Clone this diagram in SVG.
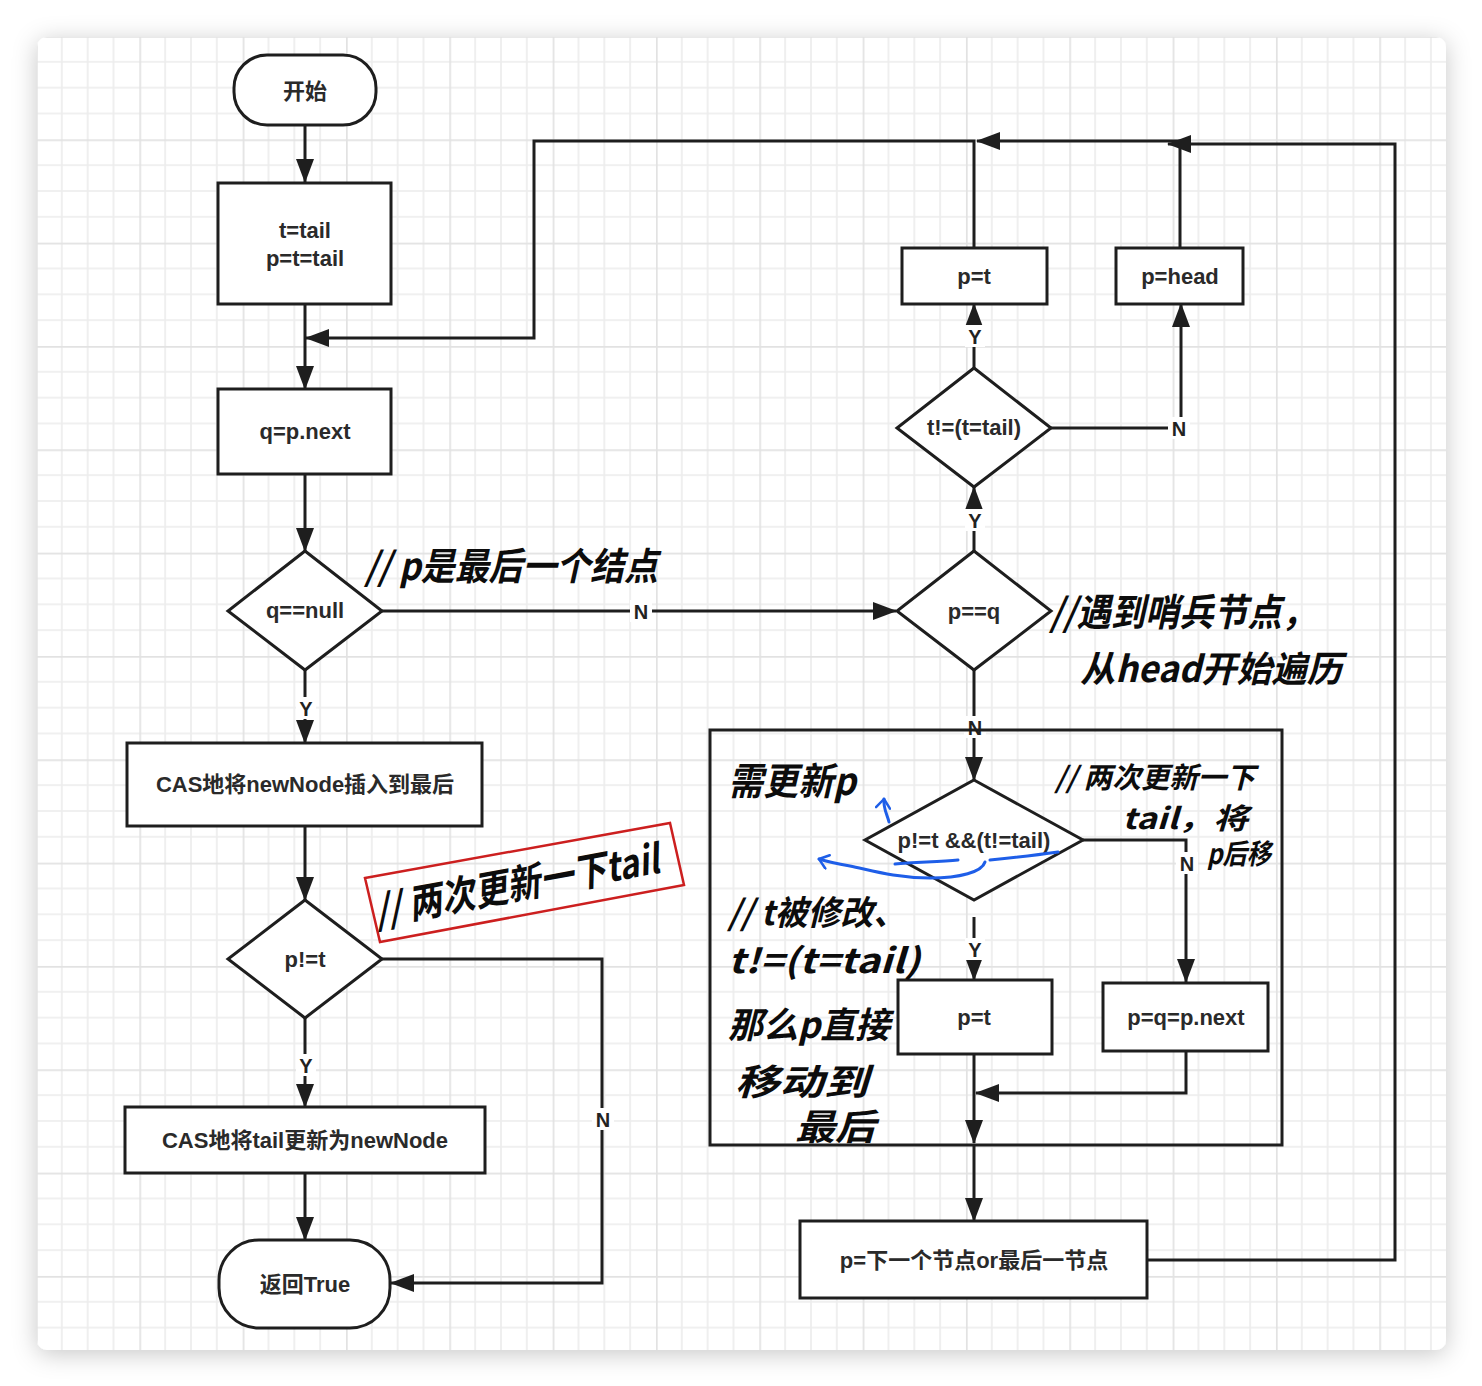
<svg xmlns="http://www.w3.org/2000/svg" width="1482" height="1386" viewBox="0 0 1482 1386">
  <defs>
    <filter id="cardShadow" x="-5%" y="-5%" width="110%" height="110%">
      <feDropShadow dx="0" dy="4" stdDeviation="12" flood-color="#000" flood-opacity="0.22"/>
    </filter>
    <pattern id="grid" patternUnits="userSpaceOnUse" x="36" y="36" width="103.33" height="103.33">
      <path d="M25.83,0V103.33M51.67,0V103.33M77.5,0V103.33M0,25.83H103.33M0,51.67H103.33M0,77.5H103.33" stroke="#ececec" stroke-width="1.6" fill="none"/>
      <path d="M0.8,0V103.33M0,0.8H103.33" stroke="#e2e2e2" stroke-width="1.8" fill="none"/>
    </pattern>
    <clipPath id="cardClip">
      <rect x="37" y="37" width="1409" height="1313" rx="10"/>
    </clipPath>
    <marker id="arrow" markerUnits="userSpaceOnUse" markerWidth="24" markerHeight="18" refX="23" refY="9" orient="auto">
      <path d="M0,0 L24,9 L0,18 z" fill="#1e1e1e"/>
    </marker>
    <marker id="blueTip" markerUnits="userSpaceOnUse" markerWidth="14" markerHeight="16" refX="11" refY="8" orient="auto">
      <path d="M2,1 L11,8 L2,15" fill="none" stroke="#1e5ee8" stroke-width="2.5" stroke-linecap="round" stroke-linejoin="round"/>
    </marker>
    <style>
      .shape { fill: #fff; stroke: #1e1e1e; stroke-width: 3; }
      .edge { fill: none; stroke: #1e1e1e; stroke-width: 3; }
      .txt { font-family: "Liberation Sans", "Noto Sans CJK SC", sans-serif; font-size: 22px; font-weight: 600; fill: #2a2a2a; text-anchor: middle; }
      .lbl { font-family: "Liberation Sans", "Noto Sans CJK SC", sans-serif; font-size: 20px; font-weight: 600; fill: #222; text-anchor: middle; }
      .lblbg { fill: #fff; }
      .hand { font-family: "Noto Sans CJK SC", sans-serif; font-weight: 700; fill: #0c0c0c; font-style: italic; }
      .blue { fill: none; stroke: #1e5ee8; stroke-width: 3; stroke-linecap: round; stroke-linejoin: round; }
    </style>
  </defs>

  <!-- page -->
  <rect x="0" y="0" width="1482" height="1386" fill="#fff"/>
  <rect x="37" y="37" width="1409" height="1313" rx="10" fill="#fff" filter="url(#cardShadow)"/>
  <rect x="37" y="37" width="1409" height="1313" fill="url(#grid)" clip-path="url(#cardClip)"/>

  <!-- connectors -->
  <g id="connectors">
    <path class="edge" d="M305,125 V182" marker-end="url(#arrow)"/>
    <path class="edge" d="M305,304 V389" marker-end="url(#arrow)"/>
    <path class="edge" d="M974,248 V141 H534 V338 H306" marker-end="url(#arrow)"/>
    <path class="edge" d="M1180,248 V141 H977" marker-end="url(#arrow)"/>
    <path class="edge" d="M1147,1260 H1395 V144 H1168" marker-end="url(#arrow)"/>
    <path class="edge" d="M305,474 V551" marker-end="url(#arrow)"/>
    <path class="edge" d="M305,670 V743" marker-end="url(#arrow)"/>
    <path class="edge" d="M382,611 H896" marker-end="url(#arrow)"/>
    <path class="edge" d="M305,826 V900" marker-end="url(#arrow)"/>
    <path class="edge" d="M305,1018 V1107" marker-end="url(#arrow)"/>
    <path class="edge" d="M382,959 H602 V1283 H391" marker-end="url(#arrow)"/>
    <path class="edge" d="M305,1173 V1240" marker-end="url(#arrow)"/>
    <path class="edge" d="M974,551 V487" marker-end="url(#arrow)"/>
    <path class="edge" d="M974,368 V304" marker-end="url(#arrow)"/>
    <path class="edge" d="M1051,428 H1181 V304" marker-end="url(#arrow)"/>
    <path class="edge" d="M974,670 V780" marker-end="url(#arrow)"/>
    <path class="edge" d="M1083,840 H1186 V982" marker-end="url(#arrow)"/>
    <path class="edge" d="M974,917 V980" marker-end="url(#arrow)"/>
    <path class="edge" d="M974,1054 V1143" marker-end="url(#arrow)"/>
    <path class="edge" d="M1186,1051 V1093 H976" marker-end="url(#arrow)"/>
    <path class="edge" d="M974,1145 V1221" marker-end="url(#arrow)"/>

    <!-- Y / N labels -->
    <rect class="lblbg" x="296" y="697" width="20" height="22"/>
    <text class="lbl" x="306" y="716">Y</text>
    <rect class="lblbg" x="296" y="1054" width="20" height="22"/>
    <text class="lbl" x="306" y="1073">Y</text>
    <rect class="lblbg" x="630" y="600" width="22" height="22"/>
    <text class="lbl" x="641" y="619">N</text>
    <rect class="lblbg" x="592" y="1108" width="22" height="22"/>
    <text class="lbl" x="603" y="1127">N</text>
    <rect class="lblbg" x="965" y="509" width="20" height="22"/>
    <text class="lbl" x="975" y="528">Y</text>
    <rect class="lblbg" x="965" y="325" width="20" height="22"/>
    <text class="lbl" x="975" y="344">Y</text>
    <rect class="lblbg" x="1168" y="417" width="22" height="22"/>
    <text class="lbl" x="1179" y="436">N</text>
    <rect class="lblbg" x="964" y="716" width="22" height="22"/>
    <text class="lbl" x="975" y="735">N</text>
    <rect class="lblbg" x="1176" y="852" width="22" height="22"/>
    <text class="lbl" x="1187" y="871">N</text>
    <rect class="lblbg" x="965" y="938" width="20" height="22"/>
    <text class="lbl" x="975" y="957">Y</text>
  </g>

  <!-- nodes -->
  <g id="start">
    <rect class="shape" x="234" y="55" width="142" height="70" rx="33"/>
    <text class="txt" x="305" y="99">开始</text>
  </g>
  <g id="init">
    <rect class="shape" x="218" y="183" width="173" height="121"/>
    <text class="txt" x="305" y="238">t=tail</text>
    <text class="txt" x="305" y="266">p=t=tail</text>
  </g>
  <g id="next">
    <rect class="shape" x="218" y="389" width="173" height="85"/>
    <text class="txt" x="305" y="439">q=p.next</text>
  </g>
  <g id="isNull">
    <polygon class="shape" points="305,551 382,611 305,670 228,611"/>
    <text class="txt" x="305" y="618">q==null</text>
  </g>
  <g id="casInsert">
    <rect class="shape" x="127" y="743" width="355" height="83"/>
    <text class="txt" x="305" y="792">CAS地将newNode插入到最后</text>
  </g>
  <g id="pNotT">
    <polygon class="shape" points="305,900 382,959 305,1018 228,959"/>
    <text class="txt" x="305" y="967">p!=t</text>
  </g>
  <g id="casTail">
    <rect class="shape" x="125" y="1107" width="360" height="66"/>
    <text class="txt" x="305" y="1148">CAS地将tail更新为newNode</text>
  </g>
  <g id="returnTrue">
    <rect class="shape" x="219" y="1240" width="171" height="88" rx="40"/>
    <text class="txt" x="305" y="1292">返回True</text>
  </g>
  <g id="pEqQ">
    <polygon class="shape" points="974,551 1051,611 974,670 897,611"/>
    <text class="txt" x="974" y="619">p==q</text>
  </g>
  <g id="tailChanged">
    <polygon class="shape" points="974,368 1051,428 974,487 897,428"/>
    <text class="txt" x="974" y="435">t!=(t=tail)</text>
  </g>
  <g id="setPT">
    <rect class="shape" x="902" y="248" width="145" height="56"/>
    <text class="txt" x="974" y="284">p=t</text>
  </g>
  <g id="setPHead">
    <rect class="shape" x="1116" y="248" width="127" height="56"/>
    <text class="txt" x="1180" y="284">p=head</text>
  </g>
  <g id="advanceGroup">
    <rect x="710" y="730" width="572" height="415" fill="none" stroke="#1e1e1e" stroke-width="3"/>
  </g>
  <g id="hopCheck">
    <polygon class="shape" points="974,780 1083,840 974,900 865,840"/>
    <text class="txt" x="974" y="848">p!=t &amp;&amp;(t!=tail)</text>
  </g>
  <g id="setPT2">
    <rect class="shape" x="898" y="980" width="154" height="74"/>
    <text class="txt" x="974" y="1025">p=t</text>
  </g>
  <g id="setPQ">
    <rect class="shape" x="1103" y="983" width="165" height="68"/>
    <text class="txt" x="1186" y="1025">p=q=p.next</text>
  </g>
  <g id="moveP">
    <rect class="shape" x="800" y="1221" width="347" height="77"/>
    <text class="txt" x="974" y="1268">p=下一个节点or最后一节点</text>
  </g>

  <!-- handwritten notes -->
  <g id="notes">
    <text class="hand" x="365" y="580" font-size="38" textLength="293" lengthAdjust="spacingAndGlyphs">// p是最后一个结点</text>
    <text class="hand" x="1050" y="626" font-size="38" textLength="266" lengthAdjust="spacingAndGlyphs">//遇到哨兵节点，</text>
    <text class="hand" x="1080" y="682" font-size="36" textLength="262" lengthAdjust="spacingAndGlyphs">从head开始遍历</text>

    <polygon points="365,878 670,823 684,885 380,942" fill="none" stroke="#cc1f1f" stroke-width="2.5"/>
    <text class="hand" x="378" y="925" font-size="40" textLength="288" lengthAdjust="spacingAndGlyphs" transform="rotate(-10.5 378 925)">// 两次更新一下tail</text>

    <text class="hand" x="728" y="795" font-size="38" textLength="128" lengthAdjust="spacingAndGlyphs">需更新p</text>
    <text class="hand" x="1055" y="788" font-size="29" textLength="200" lengthAdjust="spacingAndGlyphs">// 两次更新一下</text>
    <text class="hand" x="1122" y="829" font-size="29" textLength="126" lengthAdjust="spacingAndGlyphs">tail，将</text>
    <text class="hand" x="1207" y="864" font-size="28" textLength="64" lengthAdjust="spacingAndGlyphs">p后移</text>

    <text class="hand" x="728" y="925" font-size="34" textLength="178" lengthAdjust="spacingAndGlyphs">// t被修改、</text>
    <text class="hand" x="728" y="973" font-size="34" textLength="192" lengthAdjust="spacingAndGlyphs">t!=(t=tail)</text>
    <text class="hand" x="728" y="1038" font-size="36" textLength="162" lengthAdjust="spacingAndGlyphs">那么p直接</text>
    <text class="hand" x="735" y="1095" font-size="36" textLength="133" lengthAdjust="spacingAndGlyphs">移动到</text>
    <text class="hand" x="795" y="1140" font-size="36" textLength="80" lengthAdjust="spacingAndGlyphs">最后</text>

    <path class="blue" d="M1058,852 C1030,856 1010,858 990,860"/>
    <path class="blue" d="M958,860 C940,862 915,862 895,864"/>
    <path class="blue" d="M985,862 C982,872 960,878 930,878 C895,878 870,870 850,866 C838,864 828,862 819,859" marker-end="url(#blueTip)"/>
    <path class="blue" d="M889,822 C887,814 883,808 884,799" marker-end="url(#blueTip)"/>
  </g>
</svg>
